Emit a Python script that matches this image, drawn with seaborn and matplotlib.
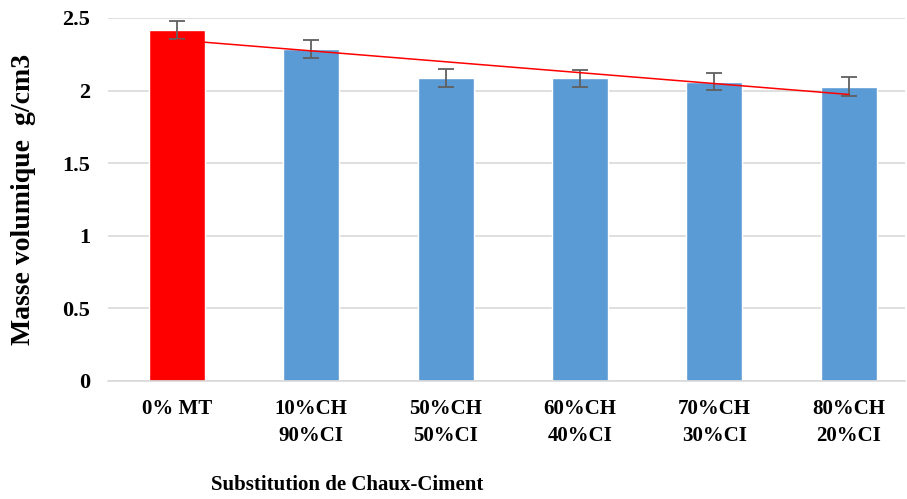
import numpy as np
import pandas as pd
import seaborn as sns
import matplotlib.pyplot as plt

# data
categories = ["0% MT", "10%CH\n90%CI", "50%CH\n50%CI", "60%CH\n40%CI", "70%CH\n30%CI", "80%CH\n20%CI"]
densities = [2.417, 2.287, 2.087, 2.085, 2.062, 2.027]
errors = [0.065, 0.06, 0.06, 0.06, 0.06, 0.065]
bar_colors = ["#FF0000", "#5B9BD5", "#5B9BD5", "#5B9BD5", "#5B9BD5", "#5B9BD5"]
y_ticks = [0, 0.5, 1, 1.5, 2, 2.5]
y_tick_labels = ["0", "0.5", "1", "1.5", "2", "2.5"]

sns.set_style("white")
plt.rcParams["font.family"] = ["Liberation Serif", "DejaVu Serif"]
plt.rcParams["font.weight"] = "bold"
plt.rcParams["text.color"] = "black"
plt.rcParams["axes.labelcolor"] = "black"

df = pd.DataFrame({"cat": categories, "val": densities})

fig = plt.figure(figsize=(9.07, 4.99), dpi=100)
ax = fig.add_axes([0.119, 0.2365, 0.879, 0.7275])

ax.yaxis.grid(True, color="#d9d9d9", linewidth=1.2, zorder=0)
ax.set_axisbelow(True)

sns.barplot(data=df, x="cat", y="val", hue="cat", palette=bar_colors,
            legend=False, width=0.416, saturation=1, ax=ax, zorder=2)

x = np.arange(len(categories))
ax.errorbar(x, densities, yerr=errors, fmt="none", ecolor="#606060",
            elinewidth=1.3, capsize=6, capthick=1.3, zorder=3)

# linear trendline
slope, intercept = np.polyfit(x, densities, 1)
ax.plot(x, slope * x + intercept, color="#FF0000", linewidth=1.1, zorder=4)

ax.set_ylim(0, 2.5)
ax.set_xlim(-0.513, 5.42)
ax.set_yticks(y_ticks)
ax.set_yticklabels(y_tick_labels)
ax.tick_params(axis="both", length=0)
ax.tick_params(axis="x", pad=13, labelsize=15, colors="black")
ax.tick_params(axis="y", pad=13, labelsize=16, colors="black")
for lbl in ax.get_xticklabels():
    lbl.set_linespacing(1.45)

for s in ["top", "right", "left"]:
    ax.spines[s].set_visible(False)
ax.spines["bottom"].set_color("#d9d9d9")
ax.spines["bottom"].set_linewidth(1.2)

ax.set_ylabel("Masse volumique  g/cm3", fontsize=20, fontweight="bold", color="black")
ax.yaxis.set_label_coords(-0.09, 0.5)
ax.set_xlabel("Substitution de Chaux-Ciment", fontsize=15, fontweight="bold", color="black")
ax.xaxis.set_label_coords(0.30, -0.287)
ax.xaxis.label.set_verticalalignment("center")

fig.savefig("out.png", dpi=100)
